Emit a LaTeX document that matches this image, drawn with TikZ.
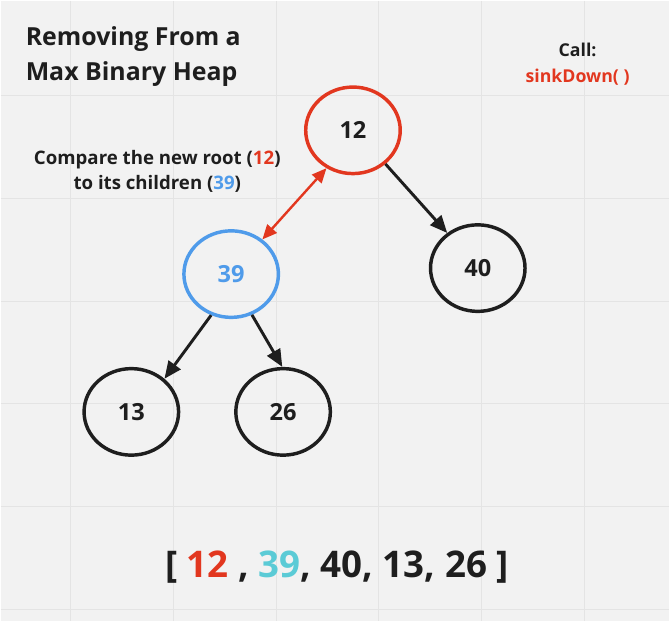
\documentclass[tikz,border=0pt]{standalone}
\usepackage{fontspec}
\setmainfont{Open Sans}
\usepackage{tikz}
\usetikzlibrary{shapes.geometric, arrows.meta}

\definecolor{heapred}{HTML}{E2371F}
\definecolor{heapblue}{HTML}{4F9BEA}
\definecolor{heapcyan}{HTML}{5BCBD6}
\definecolor{heapink}{HTML}{1E1E1E}
\definecolor{boardbg}{HTML}{F2F2F2}
\definecolor{boardgrid}{HTML}{E4E4E4}

\tikzset{
  heapnode/.style={draw=heapink, ellipse, line width=2.6pt, minimum width=71pt,
    minimum height=65pt, inner sep=0pt, text=heapink,
    font=\fontsize{17.7}{20}\selectfont\bfseries},
  childarrow/.style={draw=heapink, line width=2.2pt, -{Triangle[length=13pt,width=11pt]}},
  swaparrow/.style={draw=heapred, line width=1.8pt,
    {Triangle[length=11pt,width=9.5pt]}-{Triangle[length=11pt,width=9.5pt]}},
  notetext/.style={draw=none, text=heapink, inner sep=0pt},
}

\begin{document}
\begin{tikzpicture}[x=0.75pt, y=-0.75pt]
% board
\fill[color=boardbg] (0,0) rectangle (670,621);
\foreach \x in {70,173,...,585} \draw[color=boardgrid, line width=0.8pt] (\x,0) -- (\x,621);
\foreach \y in {95,198,...,610} \draw[color=boardgrid, line width=0.8pt] (0,\y) -- (670,\y);
\useasboundingbox (0,0) rectangle (670,621);

% titles
\node[notetext, anchor=base west, font=\fontsize{18.7}{20}\selectfont\bfseries] (title1) at (25,45) {Removing From a};
\node[notetext, anchor=base west, font=\fontsize{18.7}{20}\selectfont\bfseries] (title2) at (25,80) {Max Binary Heap};

\node[notetext, anchor=base, font=\fontsize{13.3}{16}\selectfont\bfseries] (call1) at (578,56) {Call:};
\node[notetext, anchor=base, font=\fontsize{13.3}{16}\selectfont\bfseries, text=heapred] (call2) at (578,82) {sinkDown( )};

\node[notetext, anchor=base, font=\fontsize{14}{16}\selectfont\bfseries] (note1) at (157,164) {Compare the new root (\textcolor{heapred}{12})};
\node[notetext, anchor=base, font=\fontsize{14}{16}\selectfont\bfseries] (note2) at (157,189) {to its children (\textcolor{heapblue}{39})};

% heap
\node[heapnode, draw=heapred] (n12) at (353,130) {12};
\node[heapnode, draw=heapblue, text=heapblue] (n39) at (231,274) {39};
\node[heapnode] (n40) at (478,268) {40};
\node[heapnode] (n13) at (131,412) {13};
\node[heapnode] (n26) at (283,412) {26};

\draw[childarrow] (n12.314) -- (n40.131);
\draw[childarrow] (n39.244) -- (n13.45);
\draw[childarrow] (n39.297) -- (n26.91);
\draw[swaparrow] (n12.235) -- (n39.48);

% array
\node[notetext, anchor=base, font=\fontsize{27.6}{32}\selectfont\bfseries] (arr) at (337,578)
  {[ \textcolor{heapred}{12} , \textcolor{heapcyan}{39}, 40, 13, 26 ]};
\end{tikzpicture}
\end{document}
